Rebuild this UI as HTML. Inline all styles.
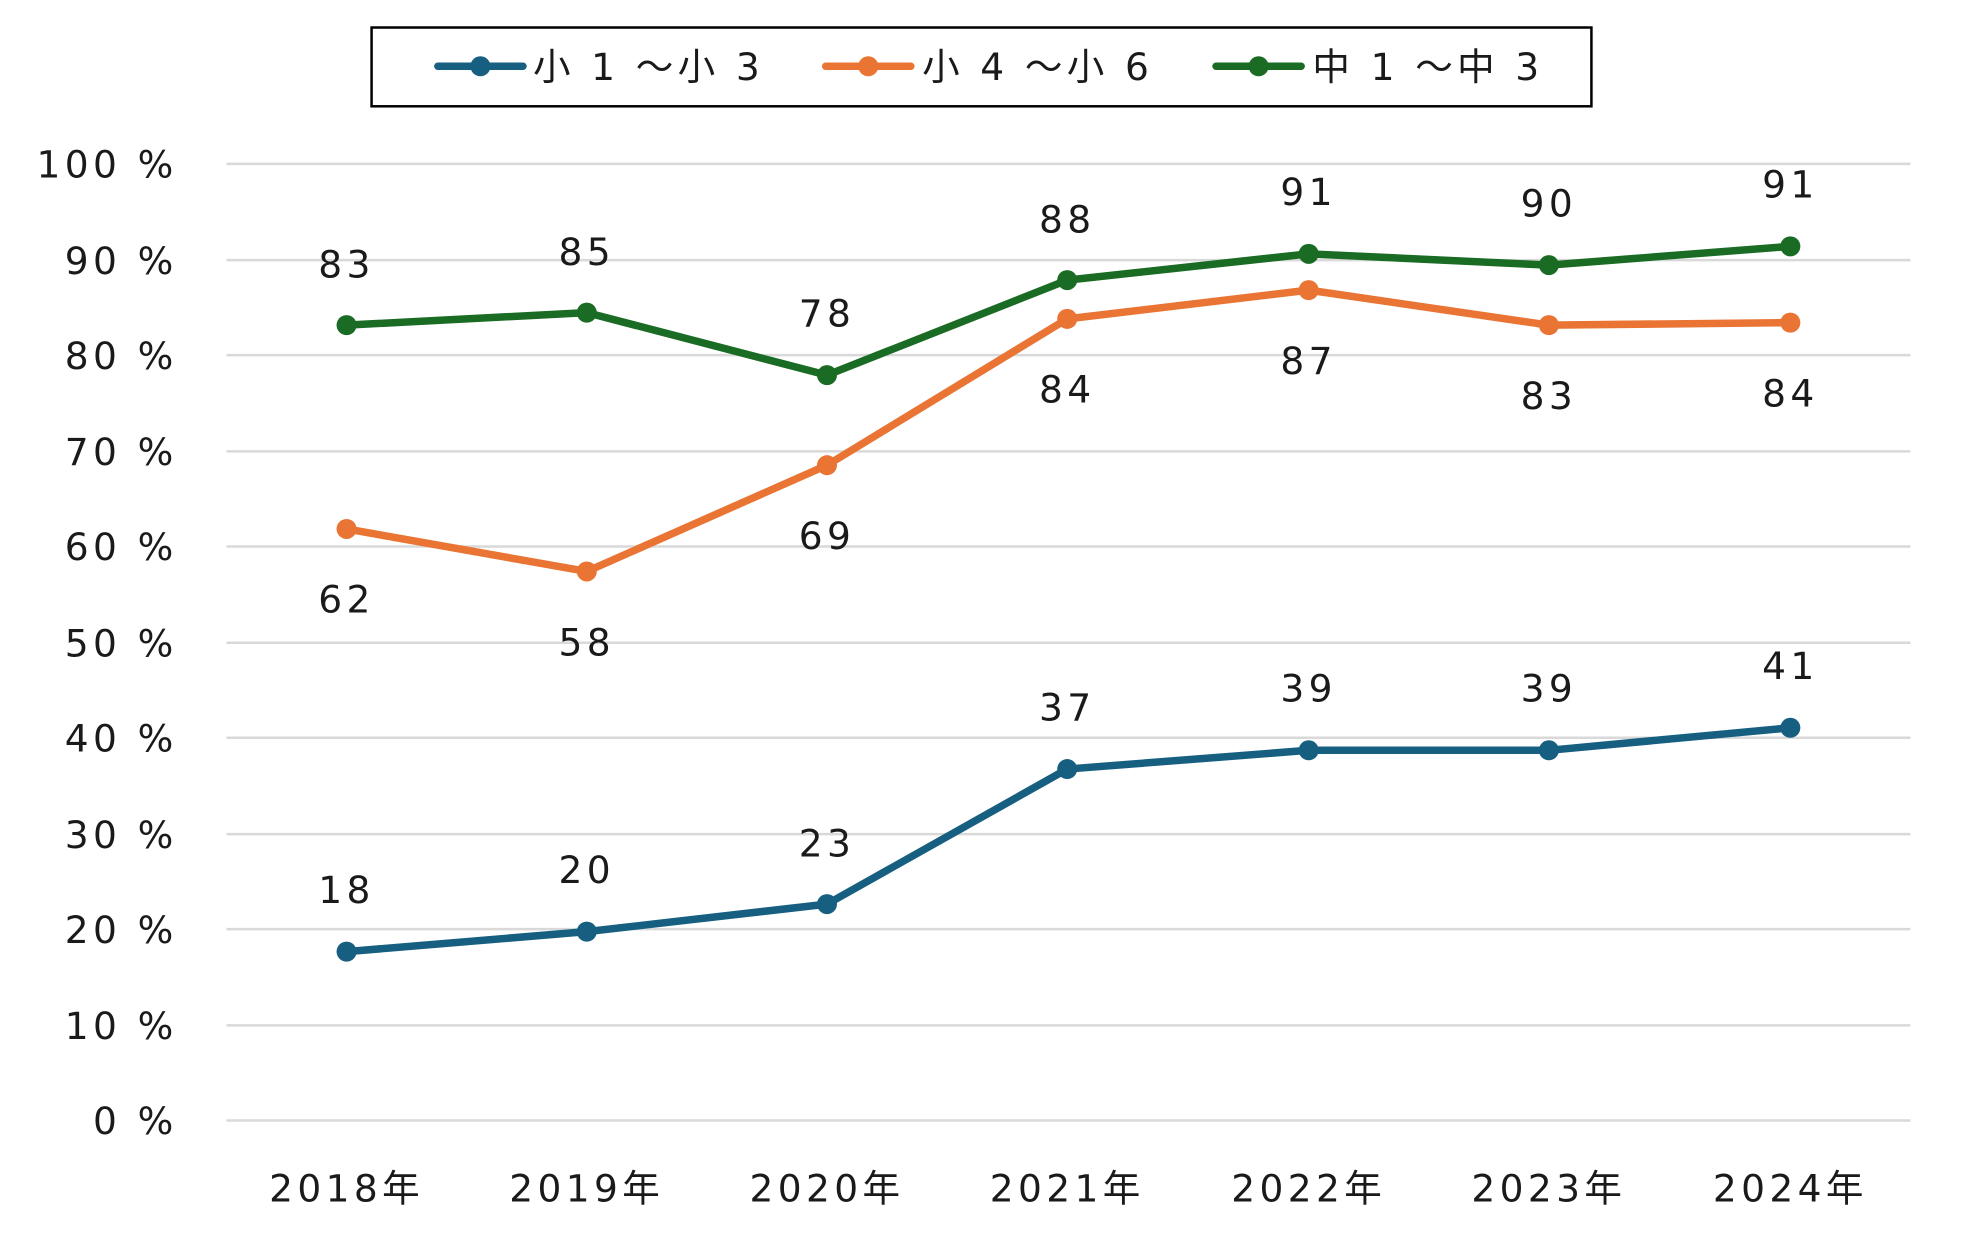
<!DOCTYPE html>
<html><head><meta charset="utf-8"><style>
html,body{margin:0;padding:0;background:#fff}
svg{display:block}
text{font-family:"DejaVu Sans","Noto Sans CJK JP",sans-serif;fill:#1a1a1a;font-size:30px;letter-spacing:3.5px}
</style></head><body>
<svg width="1963" height="1253" viewBox="0 0 1569 1002" preserveAspectRatio="none" xmlns="http://www.w3.org/2000/svg">
<rect x="297" y="22" width="975" height="63" fill="#fff" stroke="#000" stroke-width="2"/>
<line x1="350" y1="53" x2="418" y2="53" stroke="#175f80" stroke-width="6" stroke-linecap="round"/><circle cx="384" cy="53" r="8" fill="#175f80"/>
<text x="426" y="64">小 1 ～小 3</text>
<line x1="660" y1="53" x2="728" y2="53" stroke="#e97434" stroke-width="6" stroke-linecap="round"/><circle cx="694" cy="53" r="8" fill="#e97434"/>
<text x="737" y="64">小 4 ～小 6</text>
<line x1="972" y1="53" x2="1040" y2="53" stroke="#1a6b24" stroke-width="6" stroke-linecap="round"/><circle cx="1006" cy="53" r="8" fill="#1a6b24"/>
<text x="1049" y="64">中 1 ～中 3</text>
<g stroke="#d9d9d9" stroke-width="2">
<line x1="181" y1="131" x2="1527" y2="131"/><line x1="181" y1="208" x2="1527" y2="208"/><line x1="181" y1="284" x2="1527" y2="284"/><line x1="181" y1="361" x2="1527" y2="361"/><line x1="181" y1="437" x2="1527" y2="437"/><line x1="181" y1="514" x2="1527" y2="514"/><line x1="181" y1="590" x2="1527" y2="590"/><line x1="181" y1="667" x2="1527" y2="667"/><line x1="181" y1="743" x2="1527" y2="743"/><line x1="181" y1="820" x2="1527" y2="820"/><line x1="181" y1="896" x2="1527" y2="896"/>
</g>
<g text-anchor="end">
<text x="142" y="142">100 %</text><text x="142" y="219">90 %</text><text x="142" y="295">80 %</text><text x="142" y="372">70 %</text><text x="142" y="448">60 %</text><text x="142" y="525">50 %</text><text x="142" y="601">40 %</text><text x="142" y="678">30 %</text><text x="142" y="754">20 %</text><text x="142" y="831">10 %</text><text x="142" y="907">0 %</text>
</g>
<g text-anchor="middle">
<text x="277" y="961">2018年</text><text x="469" y="961">2019年</text><text x="661" y="961">2020年</text><text x="853" y="961">2021年</text><text x="1046" y="961">2022年</text><text x="1238" y="961">2023年</text><text x="1431" y="961">2024年</text>
</g>
<g fill="none" stroke-width="6" stroke-linejoin="round">
<polyline stroke="#175f80" points="277,761 469,745 661,723 853,615 1046,600 1238,600 1431,582"/>
<polyline stroke="#e97434" points="277,423 469,457 661,372 853,255 1046,232 1238,260 1431,258"/>
<polyline stroke="#1a6b24" points="277,260 469,250 661,300 853,224 1046,203 1238,212 1431,197"/>
</g>
<g fill="#175f80"><circle cx="277" cy="761" r="8"/><circle cx="469" cy="745" r="8"/><circle cx="661" cy="723" r="8"/><circle cx="853" cy="615" r="8"/><circle cx="1046" cy="600" r="8"/><circle cx="1238" cy="600" r="8"/><circle cx="1431" cy="582" r="8"/></g>
<g fill="#e97434"><circle cx="277" cy="423" r="8"/><circle cx="469" cy="457" r="8"/><circle cx="661" cy="372" r="8"/><circle cx="853" cy="255" r="8"/><circle cx="1046" cy="232" r="8"/><circle cx="1238" cy="260" r="8"/><circle cx="1431" cy="258" r="8"/></g>
<g fill="#1a6b24"><circle cx="277" cy="260" r="8"/><circle cx="469" cy="250" r="8"/><circle cx="661" cy="300" r="8"/><circle cx="853" cy="224" r="8"/><circle cx="1046" cy="203" r="8"/><circle cx="1238" cy="212" r="8"/><circle cx="1431" cy="197" r="8"/></g>
<g text-anchor="middle">
<text x="277" y="722">18</text><text x="469" y="706">20</text><text x="661" y="685">23</text><text x="853" y="576">37</text><text x="1046" y="561">39</text><text x="1238" y="561">39</text><text x="1431" y="543">41</text>
<text x="277" y="490">62</text><text x="469" y="524">58</text><text x="661" y="439">69</text><text x="853" y="322">84</text><text x="1046" y="299">87</text><text x="1238" y="327">83</text><text x="1431" y="325">84</text>
<text x="277" y="222">83</text><text x="469" y="212">85</text><text x="661" y="261">78</text><text x="853" y="186">88</text><text x="1046" y="164">91</text><text x="1238" y="173">90</text><text x="1431" y="158">91</text>
</g>
</svg>
</body></html>
